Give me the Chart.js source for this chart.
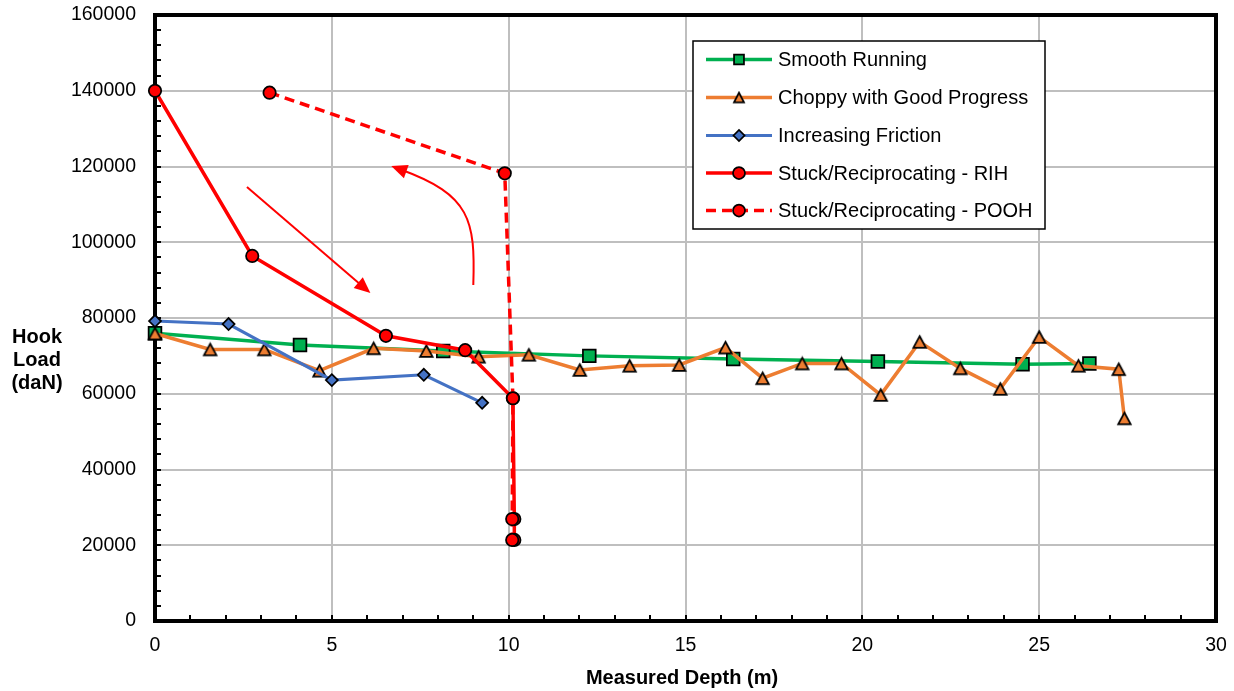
<!DOCTYPE html>
<html>
<head>
<meta charset="utf-8">
<script src="https://cdn.jsdelivr.net/npm/chart.js@4.4.1/dist/chart.umd.min.js"></script>
<style>
  html, body { margin: 0; padding: 0; background: #ffffff; }
  #wrap { width: 1234px; height: 691px; position: relative; }
</style>
</head>
<body>
<div id="wrap"><canvas id="c" width="1234" height="691"></canvas></div>
<script>
// ---- data: measured depth (m) and hook load (daN) ----
const depthSmooth = [0, 4.1, 8.15, 12.28, 16.35, 20.44, 24.53, 26.42];
const loadSmooth  = [76000, 72900, 71300, 70000, 69200, 68500, 67800, 68000];

const depthChoppy = [0, 1.56, 3.09, 4.65, 6.18, 7.67, 9.15, 10.57, 12.01, 13.42, 14.82, 16.13,
                     17.18, 18.30, 19.41, 20.52, 21.62, 22.77, 23.90, 25.00, 26.11, 27.25, 27.41];
const loadChoppy  = [75900, 71700, 71700, 66100, 72000, 71300, 69800, 70300, 66300, 67400, 67600, 72200,
                     64100, 68000, 68000, 59700, 73700, 66700, 61300, 75000, 67400, 66500, 53500];

const depthFriction = [0, 2.08, 5.0, 7.6, 9.25];
const loadFriction  = [79200, 78400, 63600, 65000, 57600];

const depthRih = [0, 2.75, 6.53, 8.77, 10.12, 10.16, 10.16];
const loadRih  = [140000, 96400, 75300, 71500, 58800, 26900, 21400];

const depthPooh = [3.24, 9.89, 10.12, 10.1, 10.1];
const loadPooh  = [139500, 118200, 58800, 26900, 21400];

const seriesLabels = ['Smooth Running', 'Choppy with Good Progress', 'Increasing Friction',
                      'Stuck/Reciprocating - RIH', 'Stuck/Reciprocating - POOH'];

const depthTicks = [0, 5, 10, 15, 20, 25, 30];
const loadTicks  = [0, 20000, 40000, 60000, 80000, 100000, 120000, 140000, 160000];

// direction arrows (depth, load): running in, then pulling out
const arrowIn  = [[2.60, 114600], [6.09, 86600]];
const arrowOut = [[9.0, 88700], [9.06, 105900], [8.92, 112500], [6.68, 120100]];

// ---- chart ----
const FONT = "'Liberation Sans', Arial, Helvetica, sans-serif";
const pts = (xs, ys) => xs.map((x, i) => ({ x: x, y: ys[i] }));

// triangle marker centred on its bounding box, so the line runs through its middle
function triangleMarker(w, h, fill) {
  const c = document.createElement('canvas');
  c.width = Math.ceil(w + 4);
  c.height = Math.ceil(h + 4);
  const g = c.getContext('2d');
  const cx = c.width / 2, cy = c.height / 2;
  g.beginPath();
  g.moveTo(cx, cy - h / 2);
  g.lineTo(cx + w / 2, cy + h / 2);
  g.lineTo(cx - w / 2, cy + h / 2);
  g.closePath();
  g.fillStyle = fill;
  g.fill();
  g.lineJoin = 'miter';
  g.lineWidth = 1.75;
  g.strokeStyle = '#000000';
  g.stroke();
  return c;
}
const triMain = triangleMarker(12.5, 11.5, '#ED7D31');
const triLegend = triangleMarker(10, 9.5, '#ED7D31');

const styles = [
  { color: '#00B050', pointStyle: 'rect',    radius: 9,   lw: 3.5, dash: [],      legend: 'rect',    legendRadius: 7 },
  { color: '#ED7D31', pointStyle: triMain,   radius: 7.5, lw: 3.5, dash: [],      legend: triLegend, legendRadius: 6 },
  { color: '#4472C4', pointStyle: 'rectRot', radius: 6,   lw: 3,   dash: [],      legend: 'rectRot', legendRadius: 5.5 },
  { color: '#FF0000', pointStyle: 'circle',  radius: 6.2, lw: 3.5, dash: [],      legend: 'circle',  legendRadius: 6 },
  { color: '#FF0000', pointStyle: 'circle',  radius: 6.2, lw: 3.5, dash: [10, 6], legend: 'circle',  legendRadius: 6 }
];
const seriesPoints = [
  pts(depthSmooth, loadSmooth),
  pts(depthChoppy, loadChoppy),
  pts(depthFriction, loadFriction),
  pts(depthRih, loadRih),
  pts(depthPooh, loadPooh)
];

const datasets = seriesLabels.map((label, i) => ({
  label: label,
  data: seriesPoints[i],
  showLine: true,
  borderColor: styles[i].color,
  borderWidth: styles[i].lw,
  borderDash: styles[i].dash,
  backgroundColor: styles[i].color,
  pointStyle: styles[i].pointStyle,
  pointRadius: styles[i].radius,
  pointHoverRadius: styles[i].radius,
  pointBackgroundColor: styles[i].color,
  pointBorderColor: '#000000',
  pointBorderWidth: 1.75,
  tension: 0,
  clip: false,
  order: seriesLabels.length - i
}));

function drawArrowHead(ctx, tip, from, len, half) {
  const ang = Math.atan2(tip.y - from.y, tip.x - from.x);
  ctx.beginPath();
  ctx.moveTo(tip.x, tip.y);
  ctx.lineTo(tip.x - len * Math.cos(ang) + half * Math.sin(ang), tip.y - len * Math.sin(ang) - half * Math.cos(ang));
  ctx.lineTo(tip.x - len * Math.cos(ang) - half * Math.sin(ang), tip.y - len * Math.sin(ang) + half * Math.cos(ang));
  ctx.closePath();
  ctx.fill();
}

const decor = {
  id: 'decor',
  beforeDatasetsDraw(chart) {
    const { ctx, chartArea: a, scales: { x, y } } = chart;
    ctx.save();
    // minor tick marks, pointing into the plot
    ctx.strokeStyle = '#000000';
    ctx.lineWidth = 2;
    ctx.beginPath();
    for (let v = 0; v <= 160000; v += 4000) {
      const py = Math.round(y.getPixelForValue(v));
      ctx.moveTo(a.left, py); ctx.lineTo(a.left + 6, py);
    }
    for (let v = 0; v <= 30; v += 1) {
      const px = Math.round(x.getPixelForValue(v));
      ctx.moveTo(px, a.bottom); ctx.lineTo(px, a.bottom - 6);
    }
    ctx.stroke();
    // plot frame
    ctx.lineWidth = 4;
    ctx.strokeRect(a.left, a.top, a.right - a.left, a.bottom - a.top);
    ctx.restore();
  },
  afterDatasetsDraw(chart) {
    const { ctx, scales: { x, y } } = chart;
    const P = p => ({ x: x.getPixelForValue(p[0]), y: y.getPixelForValue(p[1]) });
    ctx.save();
    ctx.strokeStyle = '#FF0000';
    ctx.fillStyle = '#FF0000';
    ctx.lineWidth = 2;
    // straight arrow
    const s0 = P(arrowIn[0]), s1 = P(arrowIn[1]);
    const ang = Math.atan2(s1.y - s0.y, s1.x - s0.x);
    ctx.beginPath();
    ctx.moveTo(s0.x, s0.y);
    ctx.lineTo(s1.x - 12 * Math.cos(ang), s1.y - 12 * Math.sin(ang));
    ctx.stroke();
    drawArrowHead(ctx, s1, s0, 16, 7);
    // curved arrow
    const c0 = P(arrowOut[0]), c1 = P(arrowOut[1]), c2 = P(arrowOut[2]), c3 = P(arrowOut[3]);
    const a2 = Math.atan2(c3.y - c2.y, c3.x - c2.x);
    const end = { x: c3.x - 10 * Math.cos(a2), y: c3.y - 10 * Math.sin(a2) };
    ctx.beginPath();
    ctx.moveTo(c0.x, c0.y);
    ctx.bezierCurveTo(c1.x, c1.y, c2.x, c2.y, end.x, end.y);
    ctx.stroke();
    drawArrowHead(ctx, c3, c2, 16, 7);
    ctx.restore();
  },
  afterDraw(chart) {
    const { ctx } = chart;
    ctx.save();
    // axis titles
    ctx.fillStyle = '#000000';
    ctx.font = 'bold 20px ' + FONT;
    ctx.textAlign = 'center';
    ctx.textBaseline = 'alphabetic';
    ctx.fillText('Measured Depth (m)', 682, 684);
    ['Hook', 'Load', '(daN)'].forEach((t, i) => ctx.fillText(t, 37, 343 + i * 23));

    // legend box
    const L = { left: 693, top: 41, right: 1045, bottom: 229 };
    ctx.fillStyle = '#ffffff';
    ctx.fillRect(L.left, L.top, L.right - L.left, L.bottom - L.top);
    ctx.strokeStyle = '#000000';
    ctx.lineWidth = 1.5;
    ctx.strokeRect(L.left, L.top, L.right - L.left, L.bottom - L.top);
    const rowY = [59.5, 97.5, 135.5, 173, 210.5];
    const helpers = Chart.helpers;
    chart.data.datasets.forEach((ds, i) => {
      const yy = rowY[i];
      ctx.save();
      ctx.strokeStyle = ds.borderColor;
      ctx.lineWidth = ds.borderWidth;
      ctx.setLineDash(ds.borderDash || []);
      ctx.beginPath();
      ctx.moveTo(706, yy); ctx.lineTo(772, yy);
      ctx.stroke();
      ctx.setLineDash([]);
      ctx.fillStyle = ds.pointBackgroundColor;
      ctx.strokeStyle = '#000000';
      ctx.lineWidth = 1.75;
      helpers.drawPoint(ctx, { pointStyle: styles[i].legend, radius: styles[i].legendRadius, rotation: 0, borderWidth: 1.75 }, 739, yy);
      ctx.restore();
      ctx.fillStyle = '#000000';
      ctx.font = '20px ' + FONT;
      ctx.textAlign = 'left';
      ctx.textBaseline = 'middle';
      ctx.fillText(ds.label, 778, yy + 1);
    });
    ctx.restore();
  }
};

new Chart(document.getElementById('c'), {
  type: 'scatter',
  data: { datasets: datasets },
  options: {
    responsive: false,
    animation: false,
    devicePixelRatio: 1,
    layout: { padding: { top: 15, right: 18, left: 0, bottom: 0 } },
    plugins: { legend: { display: false }, tooltip: { enabled: false } },
    scales: {
      x: {
        type: 'linear',
        min: 0, max: 30,
        afterBuildTicks: s => { s.ticks = depthTicks.map(v => ({ value: v })); },
        afterFit: s => { s.height = 70; s.paddingLeft = 0; s.paddingRight = 0; },
        grid: { color: '#BFBFBF', lineWidth: 2, drawTicks: false },
        border: { display: false },
        ticks: {
          padding: 13,
          color: '#000000',
          font: { family: FONT, size: 19.5 },
          maxRotation: 0,
          callback: v => String(v)
        }
      },
      y: {
        type: 'linear',
        min: 0, max: 160000,
        afterBuildTicks: s => { s.ticks = loadTicks.map(v => ({ value: v })); },
        afterFit: s => { s.width = 155; s.paddingTop = 0; s.paddingBottom = 0; },
        grid: { color: '#BFBFBF', lineWidth: 2, drawTicks: false },
        border: { display: false },
        ticks: {
          padding: 19,
          color: '#000000',
          font: { family: FONT, size: 19.5 },
          callback: v => String(v)
        }
      }
    }
  },
  plugins: [decor]
});
</script>
</body>
</html>
